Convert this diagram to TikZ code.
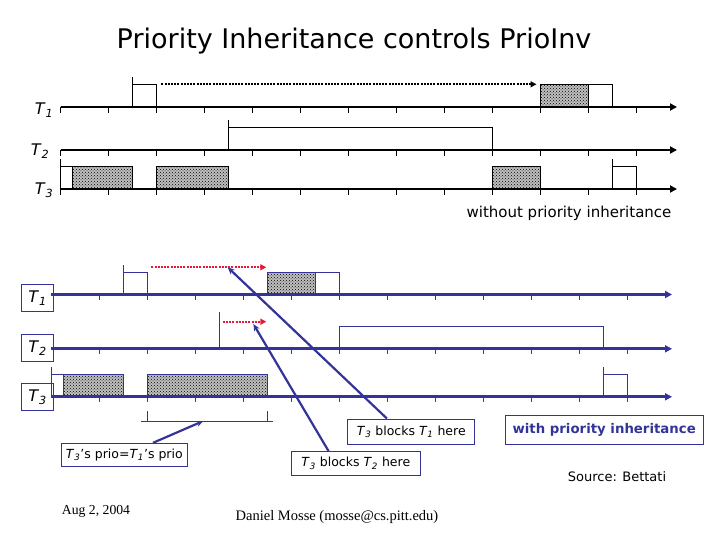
\documentclass[tikz,border=0pt]{standalone}
\usepackage{fontspec}
\setmainfont{DejaVu Sans}
\newfontfamily\footfont{Liberation Serif}
\usetikzlibrary{arrows.meta,patterns}
\definecolor{slideblue}{RGB}{51,51,153}
\definecolor{waitred}{RGB}{230,25,60}

\def\Half{24}
\def\TopX{60.5}
\def\BotX{51.3}
\def\Ht{22.5}

% style, x0, axis y, from, to (in half ticks)
\newcommand\slot[5]{\draw[#1] (#2+#4*\Half, #3) rectangle (#2+#5*\Half, #3-\Ht);}
% style, x, axis y
\newcommand\arrive[3]{\draw[#1] (#2, #3) -- (#2, #3-\Ht-7);}

\tikzset{
  axis/.style={line width=2.8pt, -{Triangle[length=7pt,width=7pt]}},
  tick/.style={line width=0.8pt},
  job/.style={line width=0.9pt},
  busy/.style={job, preaction={fill=black!25}, pattern=crosshatch dots, pattern color=black},
  wait/.style={line width=2.2pt, dash pattern=on 2pt off 1.2pt, -{Triangle[length=6pt,width=6pt]}},
  tlabel/.style={font=\fontsize{16}{18}\selectfont},
  tbox/.style={draw=slideblue, line width=0.9pt, inner sep=0pt,
    minimum width=32pt, minimum height=27pt, font=\fontsize{16}{18}\selectfont},
  note/.style={draw=slideblue, line width=0.9pt, inner sep=0pt,
    font=\fontsize{12.5}{14}\selectfont},
  callout/.style={slideblue, line width=2.2pt, -{Stealth[length=7pt,width=6pt]}},
}

\newcommand\Tn[1]{\textit{T}\textsubscript{\textit{#1}}}

\begin{document}
\begin{tikzpicture}[x=1pt, y=-1pt, >=stealth]
  \useasboundingbox (0,0) rectangle (720,540);

  \node[font=\fontsize{27}{30}\selectfont] (title) at (354,41)
    {Priority Inheritance controls PrioInv};

  % without priority inheritance
  \slot{job}{\TopX}{107}{3}{4}
  \slot{busy}{\TopX}{107}{20}{22}
  \slot{job}{\TopX}{107}{22}{23}
  \arrive{job}{\TopX+3*\Half}{107}
  \slot{job}{\TopX}{150}{7}{18}
  \arrive{job}{\TopX+7*\Half}{150}
  \slot{job}{\TopX}{189}{0}{0.5}
  \slot{busy}{\TopX}{189}{0.5}{3}
  \slot{busy}{\TopX}{189}{4}{7}
  \slot{busy}{\TopX}{189}{18}{20}
  \slot{job}{\TopX}{189}{23}{24}
  \arrive{job}{\TopX}{189}
  \arrive{job}{\TopX+23*\Half}{189}
  \draw[wait] (\TopX+4.2*\Half, 84.3) -- (\TopX+20*\Half-4, 84.3);

  \foreach \y in {107,150,189} {
    \draw[axis] (\TopX,\y) -- (677,\y);
    \foreach \k in {0,...,12}
      \draw[tick] (\TopX+\k*2*\Half,\y) -- ++(0,6);
  }

  \node[tlabel] (topT1) at (44,110) {\Tn{1}};
  \node[tlabel] (topT2) at (40,151) {\Tn{2}};
  \node[tlabel] (topT3) at (44,190) {\Tn{3}};

  \node[font=\fontsize{15}{17}\selectfont] (without) at (569,213)
    {without priority inheritance};

  % with priority inheritance
  \begin{scope}[slideblue]
    \slot{job}{\BotX}{294.5}{3}{4}
    \slot{busy}{\BotX}{294.5}{9}{11}
    \slot{job}{\BotX}{294.5}{11}{12}
    \arrive{job}{\BotX+3*\Half}{294.5}
    \draw[job] (\BotX+7*\Half,348.8) -- (\BotX+7*\Half,311.7);
    \slot{job}{\BotX}{348.8}{12}{23}
    \slot{job}{\BotX}{396.8}{0}{0.5}
    \slot{busy}{\BotX}{396.8}{0.5}{3}
    \slot{busy}{\BotX}{396.8}{4}{9}
    \slot{job}{\BotX}{396.8}{23}{24}
    \arrive{job}{\BotX}{396.8}
    \arrive{job}{\BotX+23*\Half}{396.8}

    \foreach \y in {294.5,348.8,396.8} {
      \draw[axis] (\BotX,\y) -- (672,\y);
      \foreach \k in {1,...,12}
        \draw[tick] (\BotX+\k*2*\Half,\y) -- ++(0,5);
    }

    % bracket under T3
    \draw[job] (\BotX+4*\Half,411) -- (\BotX+4*\Half,421);
    \draw[job] (\BotX+9*\Half,411) -- (\BotX+9*\Half,421);
    \draw[job] (141,421) -- (273.3,421);
  \end{scope}

  \draw[wait, waitred] (\BotX+4*\Half+4, 267.3) -- (\BotX+9*\Half-1, 267.3);
  \draw[wait, waitred] (\BotX+7*\Half+3.5, 321.7) -- (\BotX+9*\Half-1, 321.7);

  \node[tbox] (botT1) at (37.5,298) {\Tn{1}};
  \node[tbox] (botT2) at (37.5,348) {\Tn{2}};
  \node[tbox] (botT3) at (37.5,397.2) {\Tn{3}};

  \node[note, minimum width=126.7pt, minimum height=23.4pt] (prioBox)
    at (124.3,455) {\Tn{3}'s prio=\Tn{1}'s prio};
  \node[note, minimum width=127pt, minimum height=25pt] (blkOne)
    at (411.3,431.5) {\Tn{3} blocks \Tn{1} here};
  \node[note, minimum width=128.3pt, minimum height=23.3pt] (blkTwo)
    at (355.8,463.3) {\Tn{3} blocks \Tn{2} here};
  \node[note, minimum width=198pt, minimum height=29pt, text=slideblue,
    font=\bfseries\fontsize{13.3}{15}\selectfont] (withBox)
    at (604.2,429.5) {with priority inheritance};

  \coordinate (hitOne) at (\BotX+7.35*\Half,267.3);
  \coordinate (hitTwo) at (\BotX+8.42*\Half,324);
  \coordinate (hitPrio) at (203.3,421);
  \draw[callout] (blkOne.152) -- (hitOne);
  \draw[callout] (blkTwo.156) -- (hitTwo);
  \draw[callout] (prioBox.23) -- (hitPrio);

  \node[font=\fontsize{13}{15}\selectfont] (source) at (617,477) {Source: Bettati};
  \node[font=\footfont\fontsize{13.7}{16}\selectfont] (date) at (96,511) {Aug 2, 2004};
  \node[font=\footfont\fontsize{14.5}{16}\selectfont] (author) at (337,517)
    {Daniel Mosse (mosse@cs.pitt.edu)};
\end{tikzpicture}
\end{document}
